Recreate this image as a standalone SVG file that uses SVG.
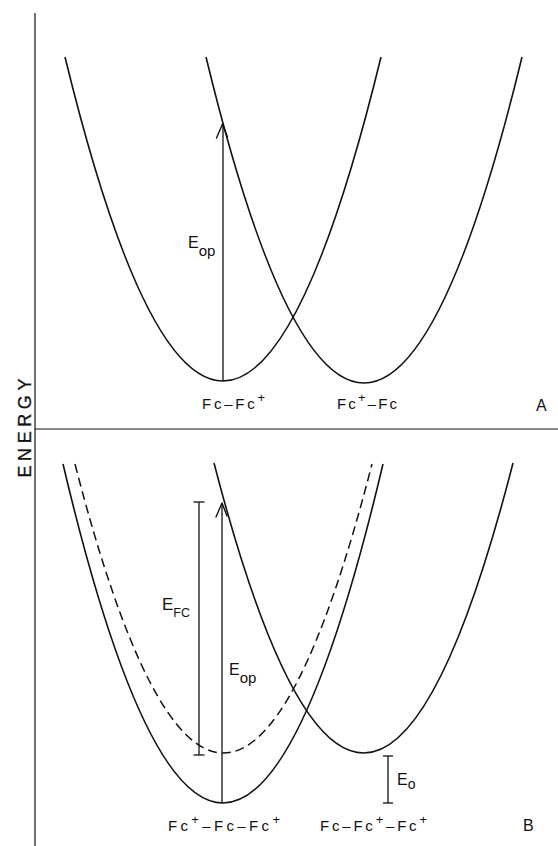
<svg xmlns="http://www.w3.org/2000/svg" width="558" height="846" viewBox="0 0 558 846">
<style>
.bg{fill:#ffffff}
.ax{stroke:#111;stroke-width:1.2;fill:none}
.cv{stroke:#111;stroke-width:1.6;fill:none}
.dash{stroke:#111;stroke-width:1.5;fill:none;stroke-dasharray:9 5}
.ln{stroke:#111;stroke-width:1.3;fill:none}
.ah{stroke:#111;stroke-width:1.4;fill:none;stroke-linecap:round;stroke-linejoin:round}
.t{font-family:"Liberation Sans",Arial,sans-serif;fill:#111}
.lab{font-size:15px}
</style>
<rect class="bg" x="0" y="0" width="558" height="846"/>

<g id="axes">
  <line class="ax" x1="35" y1="13" x2="35" y2="846"/>
  <line class="ax" x1="35" y1="429" x2="558" y2="429"/>
  <text class="t" font-size="18" stroke="#111" stroke-width="0.3" text-anchor="middle" textLength="99" lengthAdjust="spacing" transform="translate(31,428) rotate(-90)" x="0" y="0">ENERGY</text>
</g>

<g id="panelA">
  <g id="curveA-left"><path class="cv" d="M65,57 Q223,705 381,57"/></g>
  <g id="curveA-right"><path class="cv" d="M206,57 Q364,709 522,57"/></g>
  <g id="labelA-left"><text class="t lab" x="202" y="409" textLength="63" lengthAdjust="spacing">Fc–Fc<tspan dy="-7" font-size="13">+</tspan></text></g>
  <g id="labelA-right"><text class="t lab" x="337" y="409" textLength="60" lengthAdjust="spacing">Fc<tspan dy="-7" font-size="13">+</tspan><tspan dy="7">–Fc</tspan></text></g>
  <g id="tagA"><text class="t" font-size="16" x="536" y="411">A</text></g>
  <g id="EopA"><text class="t" font-size="16" x="188" y="248">E<tspan dy="8" font-size="15">op</tspan></text></g>
</g>

<g id="panelB">
  <g id="curveB-left"><path class="cv" d="M63,464 Q223,1142 383,464"/></g>
  <g id="curveB-dashed"><path class="dash" d="M75,464 Q223.5,1042 372,464"/></g>
  <g id="curveB-right"><path class="cv" d="M214,463 Q364,1043 513,463"/></g>
  <g id="labelB-left"><text class="t lab" x="168" y="831" textLength="112" lengthAdjust="spacing">Fc<tspan dy="-7" font-size="13">+</tspan><tspan dy="7">–Fc–Fc</tspan><tspan dy="-7" font-size="13">+</tspan></text></g>
  <g id="labelB-right"><text class="t lab" x="320" y="831" textLength="107" lengthAdjust="spacing">Fc–Fc<tspan dy="-7" font-size="13">+</tspan><tspan dy="7">–Fc</tspan><tspan dy="-7" font-size="13">+</tspan></text></g>
  <g id="tagB"><text class="t" font-size="16" x="523" y="831">B</text></g>
  <g id="EFC"><text class="t" font-size="17" x="162" y="610">E<tspan dy="7" font-size="12.5">FC</tspan></text></g>
  <g id="EopB"><text class="t" font-size="16" x="229" y="675">E<tspan dy="8" font-size="15">op</tspan></text></g>
  <g id="Eo"><text class="t" font-size="16" x="397" y="785">E<tspan dy="4" font-size="14">o</tspan></text></g>
</g>

<g id="connectors">
  <line class="ln" x1="223" y1="381" x2="223" y2="125"/>
  <path class="ah" d="M216.5,138 L222.5,124 L227.5,137"/>
  <line class="ln" x1="222" y1="803" x2="222" y2="504"/>
  <path class="ah" d="M216,517 L222,503 L227,516"/>
  <line class="ln" x1="199" y1="502" x2="199" y2="755"/>
  <line class="ln" x1="193.5" y1="502" x2="204.5" y2="502"/>
  <line class="ln" x1="193.5" y1="755" x2="204.5" y2="755"/>
  <line class="ln" x1="388" y1="756" x2="388" y2="803"/>
  <line class="ln" x1="383" y1="756" x2="393" y2="756"/>
  <line class="ln" x1="383" y1="803" x2="393" y2="803"/>
</g>
</svg>
